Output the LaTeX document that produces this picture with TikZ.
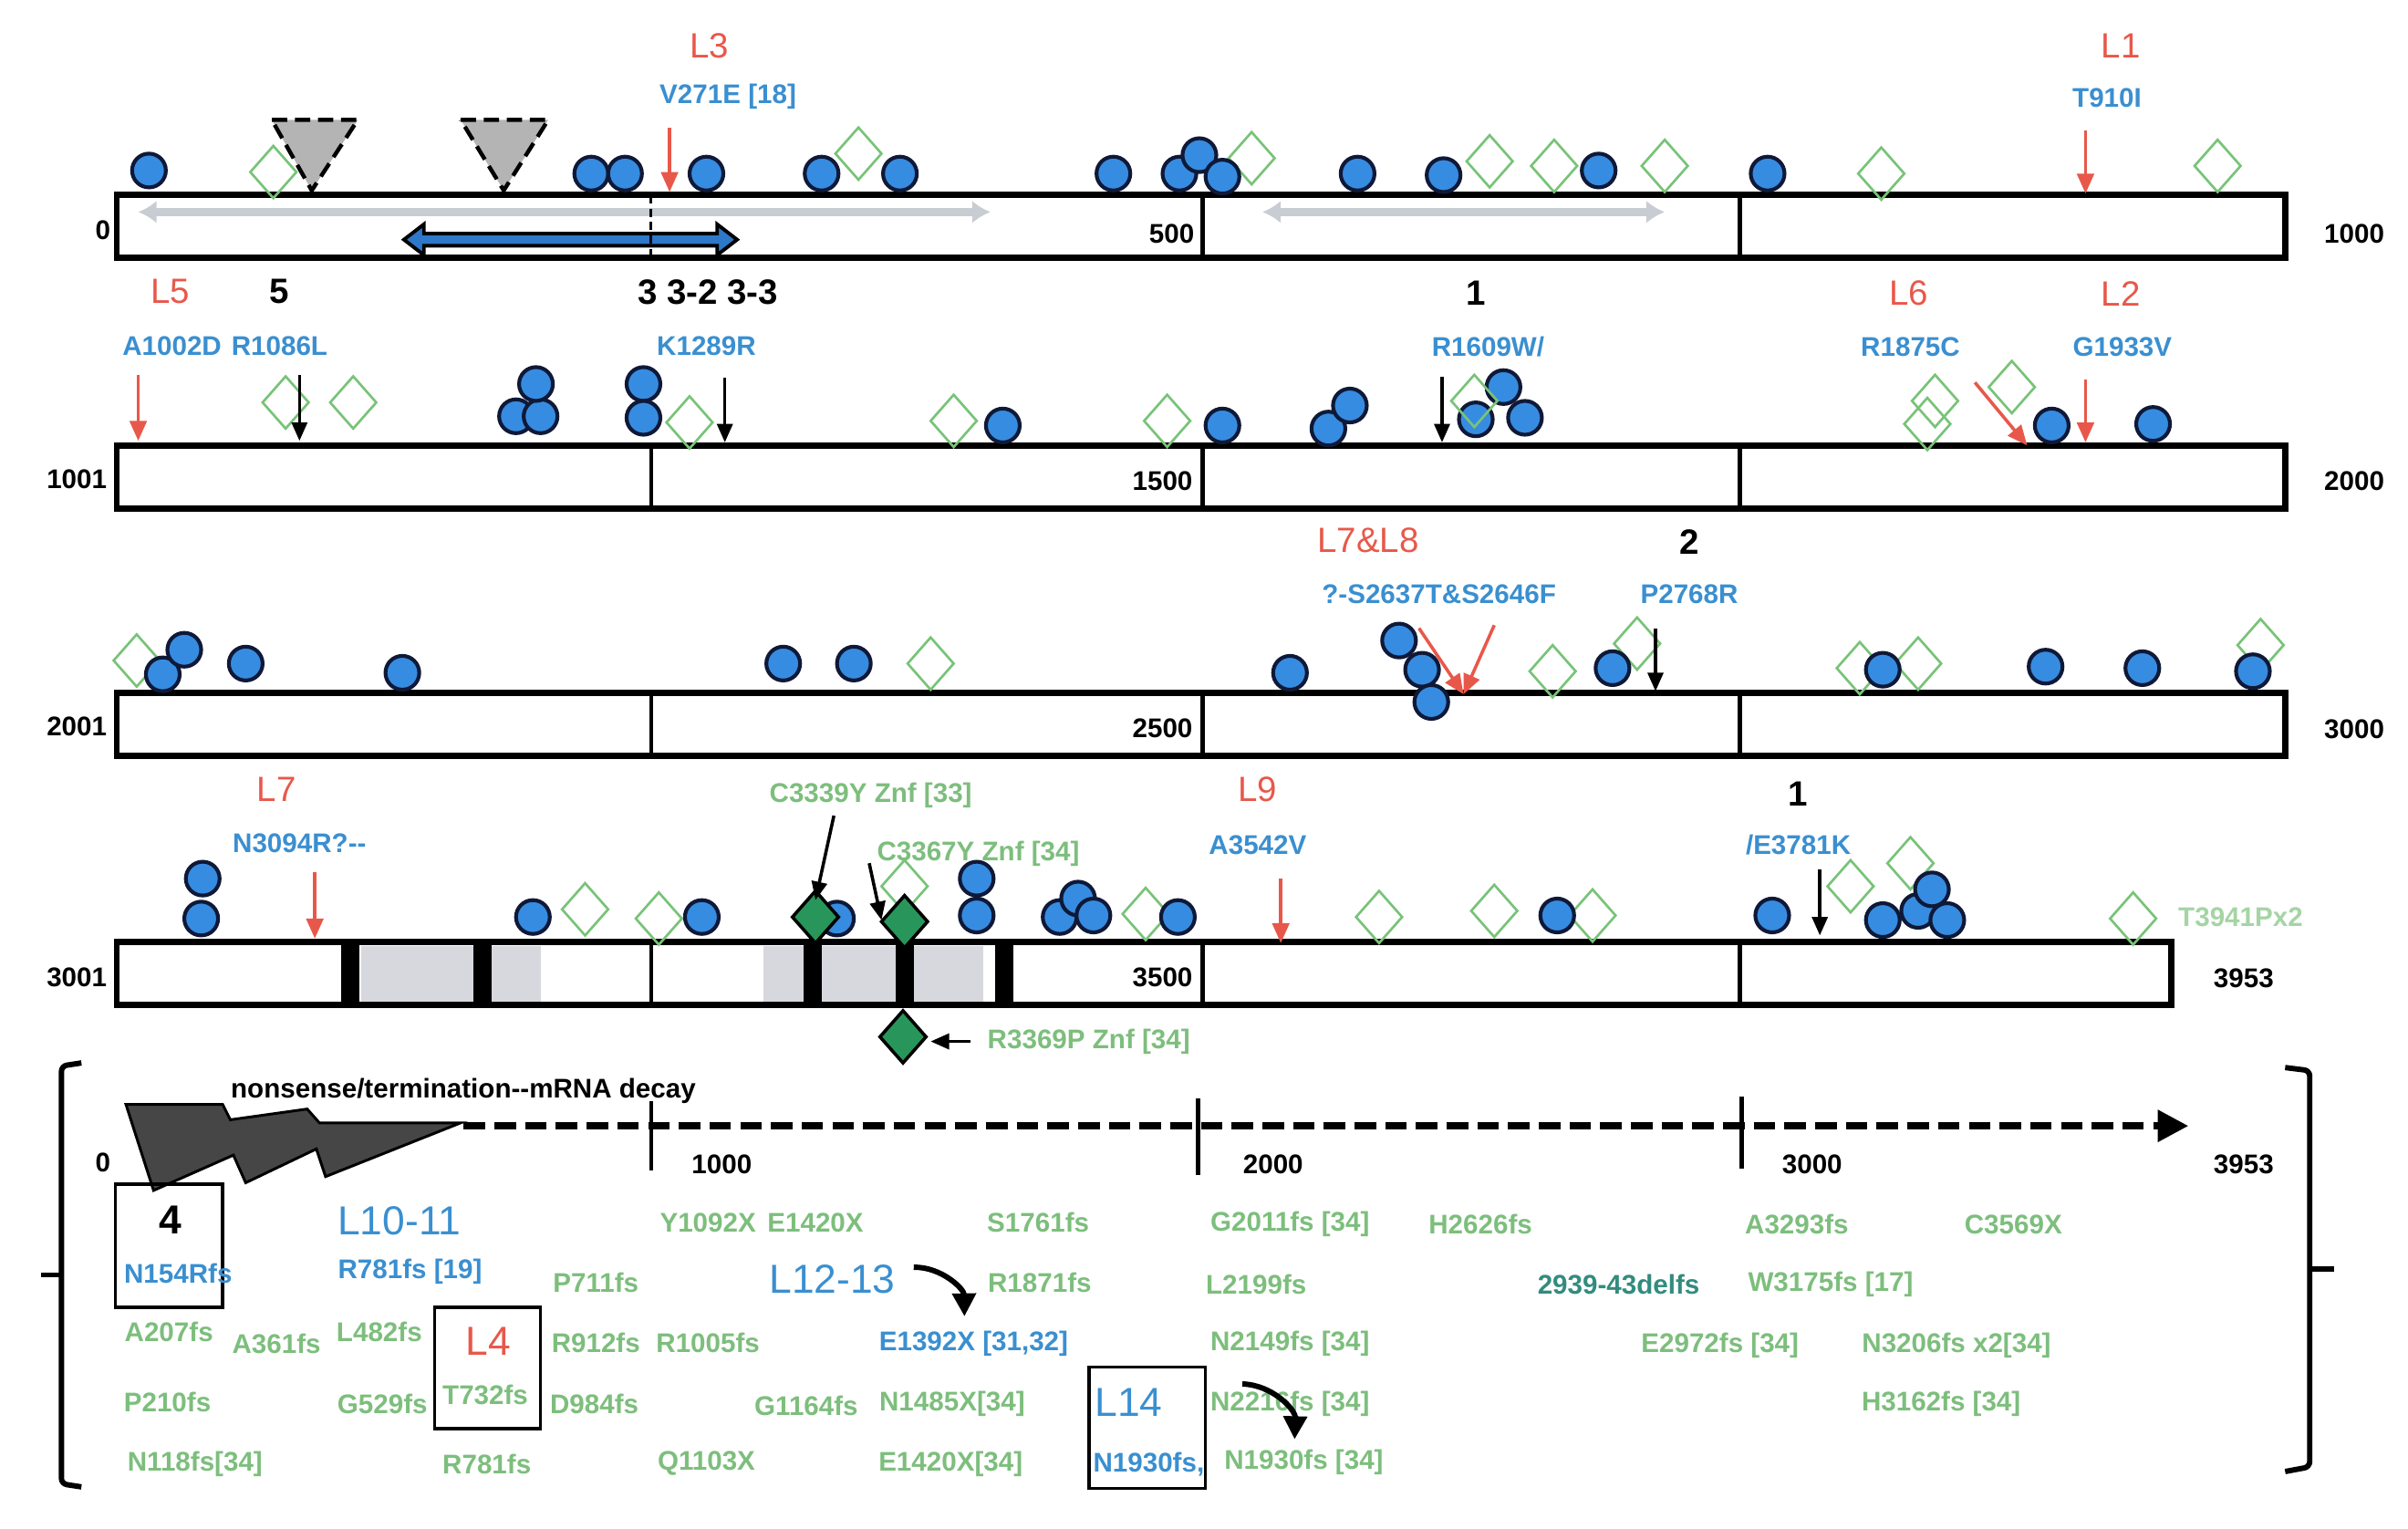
\documentclass[tikz,border=0pt]{standalone}
\usepackage{fontspec}
\setmainfont{Liberation Sans}
\usetikzlibrary{arrows.meta}
\definecolor{lred}{RGB}{232,88,74}
\definecolor{mutblue}{RGB}{58,143,208}
\definecolor{dotblue}{RGB}{54,140,225}
\definecolor{dotline}{RGB}{15,25,55}
\definecolor{gemgreen}{RGB}{120,195,120}
\definecolor{gemdark}{RGB}{40,150,90}
\definecolor{fsgreen}{RGB}{125,190,125}
\definecolor{fsfaint}{RGB}{165,212,165}
\definecolor{teal2}{RGB}{50,140,125}
\definecolor{arrgray}{RGB}{200,205,212}
\definecolor{domgray}{RGB}{215,215,222}
\definecolor{trigray}{RGB}{180,180,180}
\definecolor{arrblue}{RGB}{45,120,200}
\definecolor{boltgray}{RGB}{70,70,70}
\newcommand{\blob}[2]{\draw[fill=dotblue, draw=dotline, line width=1.4pt] (#1,#2) circle[radius=11];}
\newcommand{\gem}[2]{\draw[draw=gemgreen, line width=0.9pt] (#1,#2) ++(0,-17) -- ++(15,17) -- ++(-15,17) -- ++(-15,-17) -- cycle;}
\newcommand{\fgem}[2]{\draw[fill=gemdark, draw=black, line width=1.2pt] (#1,#2) ++(0,-17) -- ++(15,17) -- ++(-15,17) -- ++(-15,-17) -- cycle;}
\newcommand{\protbar}[1]{\draw[draw=black, line width=2.3pt, fill=white] (76,0) rectangle (#1,41);
					\draw[line width=1.8pt] (783,0) -- (783,41);
					\draw[line width=1.8pt] (1133,0) -- (1133,41);}
\newcommand{\pointer}[6]{\coordinate (#1s) at (#3,#4);
					\coordinate (#1e) at (#5,#6);
					\draw[#2] (#1s) -- (#1e);}

\begin{document}
\begin{tikzpicture}[x=0.2mm, y=-0.2mm,
	every node/.append style={inner sep=0pt},
	redlab/.style={text=lred, font=\fontsize{13}{13}\selectfont},
	mut/.style={text=mutblue, font=\bfseries\fontsize{10}{10}\selectfont},
	fsl/.style={text=fsgreen, font=\bfseries\fontsize{10}{10}\selectfont},
	axnum/.style={font=\bfseries\fontsize{10}{10}\selectfont},
	famno/.style={font=\bfseries\fontsize{13}{13}\selectfont},
	biglab/.style={text=mutblue, font=\fontsize{15}{15}\selectfont},
	redptr/.style={draw=lred, line width=1.2pt, -{Triangle[length=2.6mm,width=2.2mm]}},
	blkptr/.style={draw=black, line width=1.2pt, -{Triangle[length=2.4mm,width=2mm]}},
	curvy/.style={draw=black, line width=2pt, -{Triangle[length=3mm,width=3mm]}},
	grayarr/.style={draw=arrgray, line width=3pt, {Latex[length=2.4mm,width=3mm]}-{Latex[length=2.4mm,width=3mm]}},
	tri/.style={fill=trigray, draw=black, line width=1.5pt, dash pattern=on 2mm off 1mm},
	brk/.style={draw=black, line width=2pt, rounded corners=2pt}]

	\useasboundingbox (0,0) rectangle (1568,995);

	\begin{scope}[shift={(0,127)}]
		\protbar{1488}
	\end{scope}
	\begin{scope}[shift={(0,290)}]
		\protbar{1488}
	\end{scope}
	\begin{scope}[shift={(0,451)}]
		\protbar{1488}
	\end{scope}
	\begin{scope}[shift={(0,613)}]
		\protbar{1414}
	\end{scope}

	\draw[grayarr] (90,138) -- (645,138);
	\draw[grayarr] (822,138) -- (1084,138);
	\draw[fill=arrblue, line width=1.3pt] (263,156) -- (276,146) -- (276,152) -- (467,152) -- (467,146) -- (480,156) -- (467,166) -- (467,160) -- (276,160) -- (276,166) -- cycle;
	\draw[line width=1pt, densely dashed] (424,127) -- (424,168);
	\draw[line width=1.2pt] (424,290) -- (424,331);
	\draw[line width=1.2pt] (424,451) -- (424,492);
	\draw[line width=1.2pt] (424,613) -- (424,654);

	\fill[domgray] (235,616) rectangle (308,652);
	\fill[domgray] (320,616) rectangle (352,652);
	\fill[domgray] (497,616) rectangle (523,652);
	\fill[domgray] (535,616) rectangle (583,652);
	\fill[domgray] (595,616) rectangle (640,652);
	\foreach \x in {228,314,529,589,654}
		{\fill (\x-6,611) rectangle (\x+6,656);}

	\draw[tri] (177,78) -- (233,78) -- (203,124) -- cycle;
	\draw[tri] (300,78) -- (357,78) -- (328,124) -- cycle;

	\foreach \x/\y in {178/112, 559/100, 815/103, 970/105, 1012/108, 1084/108, 1225/113, 1444/108,
		186/262, 230/262, 449/275, 621/274, 760/274, 1260/261, 1255/276, 1310/252,
		89/430, 606/432, 1011/437, 1066/419, 1211/435, 1249/432, 1472/420,
		381/592, 429/598, 589/577, 746/595, 898/597, 973/593, 1037/596, 1205/577, 1244/562, 1389/598}
		{\gem{\x}{\y}}
	\foreach \x/\y in {97/111, 385/113, 407/113, 460/113, 535/113, 586/113, 725/113, 768/113, 781/101, 796/115, 884/113, 940/114, 1041/111, 1151/113,
		336/271, 352/271, 349/250, 419/250, 419/272, 653/277, 796/277, 865/279, 879/264, 961/273, 979/252, 993/272, 1336/277, 1402/276,
		106/439, 120/423, 160/432, 262/438, 510/432, 556/432, 840/438, 911/417, 926/436, 932/457, 1050/435, 1226/436, 1332/434, 1395/435, 1467/437,
		132/572, 131/598, 347/597, 457/597, 545/598, 636/572, 636/596, 690/597, 702/585, 712/596, 767/597, 1014/596, 1154/596, 1226/599, 1249/593, 1258/579, 1268/599}
		{\blob{\x}{\y}}
	\gem{960}{261}
	\fgem{531}{597}
	\fgem{589}{600}
	\fgem{588}{675}

	\pointer{a1}{redptr}{436}{83}{436}{125}
	\pointer{a2}{redptr}{1358}{85}{1358}{126}
	\pointer{a3}{redptr}{90}{244}{90}{287}
	\pointer{a4}{blkptr}{195}{244}{195}{287}
	\pointer{a5}{blkptr}{472}{246}{472}{288}
	\pointer{a6}{blkptr}{939}{245}{939}{288}
	\pointer{a7}{redptr}{1286}{249}{1320}{290}
	\pointer{a8}{redptr}{1358}{247}{1358}{288}
	\pointer{a9}{redptr}{924}{409}{953}{452}
	\pointer{a10}{redptr}{973}{407}{953}{452}
	\pointer{a11}{blkptr}{1078}{409}{1078}{450}
	\pointer{a12}{redptr}{205}{568}{205}{611}
	\pointer{a13}{blkptr}{543}{531}{531}{586}
	\pointer{a14}{blkptr}{566}{562}{574}{599}
	\pointer{a15}{redptr}{834}{572}{834}{614}
	\pointer{a16}{blkptr}{1185}{566}{1185}{609}
	\pointer{a17}{blkptr}{632}{678}{606}{678}

	\node[redlab] (nL3) at (462,30) {L3};
	\node[mut] (nV271E) at (474,63) {V271E [18]};
	\node[redlab] (nL1) at (1381,30) {L1};
	\node[mut] (nT910I) at (1372,64) {T910I};
	\node[axnum] (p0) at (67,150) {0};
	\node[axnum] (p500) at (763,152) {500};
	\node[axnum] (p1000) at (1533,152) {1000};
	\node[redlab] (nL5) at (111,190) {L5};
	\node[famno] (f5) at (182,190) {5};
	\node[famno] (f33) at (461,190) {3 3-2 3-3};
	\node[famno] (f1a) at (961,191) {1};
	\node[redlab] (nL6) at (1243,191) {L6};
	\node[redlab] (nL2) at (1381,191) {L2};
	\node[mut] (nA1002D) at (112,225) {A1002D};
	\node[mut] (nR1086L) at (182,225) {R1086L};
	\node[mut] (nK1289R) at (460,225) {K1289R};
	\node[mut] (nR1609W) at (969,226) {R1609W/};
	\node[mut] (nR1875C) at (1244,226) {R1875C};
	\node[mut] (nG1933V) at (1382,226) {G1933V};
	\node[axnum] (p1001) at (50,312) {1001};
	\node[axnum] (p1500) at (757,313) {1500};
	\node[axnum] (p2000) at (1533,313) {2000};
	\node[redlab] (nL78) at (891,352) {L7\&L8};
	\node[famno] (f2) at (1100,353) {2};
	\node[mut] (nS2637T) at (937,387) {?-S2637T\&S2646F};
	\node[mut] (nP2768R) at (1100,387) {P2768R};
	\node[axnum] (p2001) at (50,473) {2001};
	\node[axnum] (p2500) at (757,474) {2500};
	\node[axnum] (p3000) at (1533,475) {3000};
	\node[redlab] (nL7) at (180,514) {L7};
	\node[mut] (nN3094R) at (195,549) {N3094R?-{}-};
	\node[fsl] (nC3339Y) at (567,518) {C3339Y Znf [33]};
	\node[fsl] (nC3367Y) at (637,556) {C3367Y Znf [34]};
	\node[redlab] (nL9) at (819,514) {L9};
	\node[mut] (nA3542V) at (819,550) {A3542V};
	\node[famno] (f1b) at (1171,517) {1};
	\node[mut] (nE3781K) at (1171,550) {/E3781K};
	\node[fsl, text=fsfaint] (nT3941P) at (1459,597) {T3941Px2};
	\node[axnum] (p3001) at (50,636) {3001};
	\node[axnum] (p3500) at (757,636) {3500};
	\node[axnum] (p3953) at (1461,637) {3953};
	\node[fsl] (nR3369P) at (709,678) {R3369P Znf [34]};

	\draw[brk] (53,692) -- (40,694) -- (40,966) -- (53,968);
	\draw[line width=2pt] (40,830) -- (27,830);
	\draw[brk] (1488,695) -- (1504,697) -- (1504,955) -- (1488,958);
	\draw[line width=2pt] (1504,826) -- (1520,826);

	\draw[fill=boltgray, draw=black, line width=1pt] (82,719) -- (145,719) -- (150,729) -- (200,722) -- (208,731) -- (300,731) -- (212,766) -- (206,748) -- (160,770) -- (152,752) -- (100,775) -- cycle;
	\draw[line width=2.5pt, dash pattern=on 2.8mm off 1.2mm, -{Triangle[length=4mm,width=4mm]}] (302,733) -- (1425,733);
	\draw[line width=1.5pt] (424,717) -- (424,762);
	\draw[line width=1.5pt] (780,715) -- (780,765);
	\draw[line width=1.5pt] (1134,714) -- (1134,761);
	\node[axnum, anchor=west] (nmd) at (150,710) {nonsense/termination-{}-mRNA decay};
	\node[axnum] (q0) at (67,757) {0};
	\node[axnum] (q1000) at (470,758) {1000};
	\node[axnum] (q2000) at (829,758) {2000};
	\node[axnum] (q3000) at (1180,758) {3000};
	\node[axnum] (q3953) at (1461,758) {3953};

	\draw[line width=1.2pt] (75,771) rectangle (145,851);
	\draw[line width=1.2pt] (283,851) rectangle (352,930);
	\draw[line width=1.2pt] (709,890) rectangle (785,969);
	\node[font=\bfseries\fontsize{15}{15}\selectfont] (f4) at (111,794) {4};
	\node[mut] (nN154R) at (116,829) {N154Rfs};
	\node[biglab] (nL1011) at (260,795) {L10-11};
	\node[mut] (nR781a) at (267,828) {R781fs [19]};
	\node[biglab] (nL1213) at (542,833) {L12-13};
	\node[mut] (nE1392X) at (634,875) {E1392X [31,32]};
	\node[redlab, font=\fontsize{15}{15}\selectfont] (nL4) at (318,873) {L4};
	\node[biglab] (nL14) at (735,913) {L14};
	\node[mut] (nN1930a) at (748,953) {N1930fs,};
	\node[fsl, text=teal2] (n2939) at (1054,836) {2939-43delfs};
	\foreach \x/\y/\t in {461/796/Y1092X, 531/796/E1420X, 676/796/S1761fs, 840/797/G2011fs [34], 964/797/H2626fs, 1170/797/A3293fs, 1311/797/C3569X,
		388/835/P711fs, 677/835/R1871fs, 818/836/L2199fs, 1192/836/W3175fs [17],
		110/867/A207fs, 180/875/A361fs, 247/867/L482fs, 388/874/R912fs, 461/874/R1005fs, 840/875/N2149fs [34], 1120/876/E2972fs [34], 1274/876/N3206fs x2[34],
		109/913/P210fs, 249/914/G529fs, 316/908/T732fs, 387/914/D984fs, 525/915/G1164fs, 620/914/N1485X[34], 840/914/N2216fs [34], 1264/914/H3162fs [34],
		127/953/N118fs[34], 317/953/R781fs, 460/953/Q1103X, 619/953/E1420X[34], 849/952/N1930fs [34]}
		{\node[fsl] (g\x-\y) at (\x,\y) {\t};}

	\coordinate (c12a) at (595,825);
	\coordinate (c12b) at (628,857);
	\draw[curvy] (c12a) to[bend left=45] (c12b);
	\coordinate (c14a) at (809,901);
	\coordinate (c14b) at (843,937);
	\draw[curvy] (c14a) to[bend left=45] (c14b);

\end{tikzpicture}
\end{document}
